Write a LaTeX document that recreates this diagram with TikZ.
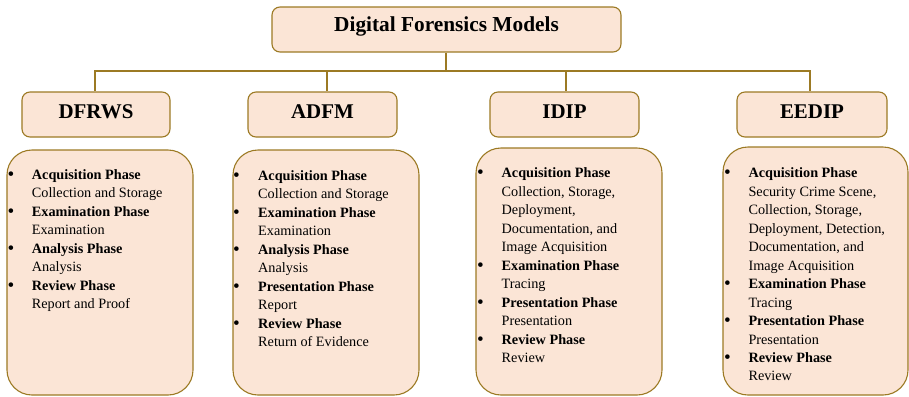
\documentclass[tikz,border=0pt]{standalone}
\usepackage{fontspec}
\setmainfont{Liberation Serif}
\usepackage{array}
\usepackage{graphicx}
\definecolor{boxfill}{HTML}{FBE5D6}
\definecolor{boxline}{HTML}{9C7A24}
\newcommand{\bul}{\raisebox{-1.2bp}{\scalebox{1.35}{\textbullet}}}
\begin{document}
\begin{tikzpicture}[x=1bp,y=-1bp,
  framed/.style={draw=boxline, fill=boxfill, line width=1.1bp, inner sep=0pt},
  titlebox/.style={framed, rounded corners=8bp, minimum width=349bp, minimum height=45bp,
    font=\fontsize{21.4}{24}\selectfont\bfseries, text height=14bp, text depth=10bp},
  modelbox/.style={framed, rounded corners=8bp, minimum width=149bp, minimum height=45bp,
    font=\fontsize{21}{24}\selectfont\bfseries, text height=14bp, text depth=7bp},
  phasebox/.style={framed, rounded corners=25bp, minimum width=186bp},
  phasetext/.style={anchor=base west, inner sep=0pt, align=left,
    font=\fontsize{14.3}{18.55}\selectfont},
  conn/.style={draw=boxline, line width=1.2bp}
]
\useasboundingbox (0,0) rectangle (909,396);

% top level and model headings
\node[titlebox] (top) at (446.5,29.5) {Digital Forensics Models};
\node[modelbox, minimum width=148bp] (dfrws) at (96,114.5) {DFRWS};
\node[modelbox] (adfm) at (322.5,114.5) {ADFM};
\node[modelbox] (idip) at (564.5,114.5) {IDIP};
\node[modelbox, minimum width=150bp] (eedip) at (812,114.5) {EEDIP};

% tree connectors
\coordinate (bus) at (446,71);
\coordinate (stem) at ([xshift=-0.5bp]top.south);
\draw[conn] (stem) -- (stem |- bus);
\draw[conn] (stem |- bus) -| ([xshift=-1bp]dfrws.north);
\draw[conn] (stem |- bus) -| ([xshift=4.5bp]adfm.north);
\draw[conn] (stem |- bus) -| ([xshift=1.5bp]idip.north);
\draw[conn] (stem |- bus) -| ([xshift=-2bp]eedip.north);

% phase boxes
\node[phasebox, minimum height=245bp] (dfrwsbox) at (100,272.5) {};
\node[phasebox, minimum height=245bp] (adfmbox) at (326,272.5) {};
\node[phasebox, minimum height=247bp] (idipbox) at (569,271.5) {};
\node[phasebox, minimum height=248bp, minimum width=185bp] (eedipbox) at (815.5,271) {};

% phase lists
\node[phasetext] (dfrwstext) at (7.5,179.3) {%
\begin{tabular}[t]{@{}p{24.2bp}@{}l@{}}
\bul & \textbf{Acquisition Phase}\\
     & Collection and Storage\\
\bul & \textbf{Examination Phase}\\
     & Examination\\
\bul & \textbf{Analysis Phase}\\
     & Analysis\\
\bul & \textbf{Review Phase}\\
     & Report and Proof
\end{tabular}};

\node[phasetext] (adfmtext) at (233,180.3) {%
\begin{tabular}[t]{@{}p{25bp}@{}l@{}}
\bul & \textbf{Acquisition Phase}\\
     & Collection and Storage\\
\bul & \textbf{Examination Phase}\\
     & Examination\\
\bul & \textbf{Analysis Phase}\\
     & Analysis\\
\bul & \textbf{Presentation Phase}\\
     & Report\\
\bul & \textbf{Review Phase}\\
     & Return of Evidence
\end{tabular}};

\node[phasetext] (idiptext) at (477,177.7) {%
\begin{tabular}[t]{@{}p{24.5bp}@{}l@{}}
\bul & \textbf{Acquisition Phase}\\
     & Collection, Storage,\\
     & Deployment,\\
     & Documentation, and\\
     & Image Acquisition\\
\bul & \textbf{Examination Phase}\\
     & Tracing\\
\bul & \textbf{Presentation Phase}\\
     & Presentation\\
\bul & \textbf{Review Phase}\\
     & Review
\end{tabular}};

\node[phasetext] (eediptext) at (724,177.7) {%
\begin{tabular}[t]{@{}p{24.3bp}@{}l@{}}
\bul & \textbf{Acquisition Phase}\\
     & Security Crime Scene,\\
     & Collection, Storage,\\
     & Deployment, Detection,\\
     & Documentation, and\\
     & Image Acquisition\\
\bul & \textbf{Examination Phase}\\
     & Tracing\\
\bul & \textbf{Presentation Phase}\\
     & Presentation\\
\bul & \textbf{Review Phase}\\
     & Review
\end{tabular}};
\end{tikzpicture}
\end{document}
